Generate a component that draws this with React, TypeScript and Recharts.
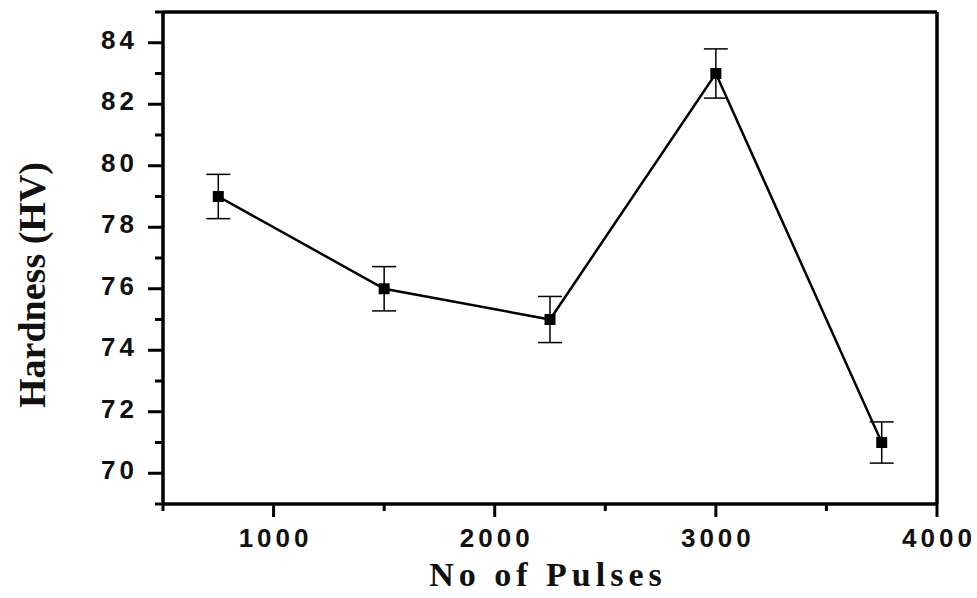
import {
  LineChart,
  Line,
  XAxis,
  YAxis,
  ErrorBar,
  ReferenceLine,
  Label,
} from "recharts";

// pulse count vs. Vickers hardness, with standard deviation
const pulses = [750, 1500, 2250, 3000, 3750];
const hardness = [79, 76, 75, 83, 71];
const hardnessErr = [0.72, 0.72, 0.75, 0.8, 0.67];

const xTicks = [500, 1000, 1500, 2000, 2500, 3000, 3500, 4000];
const yTicks = [69, 70, 71, 72, 73, 74, 75, 76, 77, 78, 79, 80, 81, 82, 83, 84, 85];

const chartData = pulses.map((p, i) => ({
  pulses: p,
  hardness: hardness[i],
  err: hardnessErr[i],
}));

const tickFont = {
  fontFamily: "'Liberation Sans', Arial, sans-serif",
  fontWeight: 700,
  fontSize: 26,
  letterSpacing: 4,
  fill: "#111",
};

const titleFont = {
  fontFamily: "'Liberation Serif', 'Times New Roman', serif",
  fontWeight: 700,
  fill: "#111",
};

const XTick = ({ x, y, payload }: any) => {
  const major = payload.value % 1000 === 0;
  return (
    <g>
      <line x1={x} x2={x} y1={y} y2={y + (major ? 13 : 7)} stroke="#000" strokeWidth={3} />
      {major && (
        <text x={x + 2} y={y + 34} textAnchor="middle" dominantBaseline="central" {...tickFont}>
          {payload.value}
        </text>
      )}
    </g>
  );
};

const YTick = ({ x, y, payload }: any) => {
  const major = payload.value % 2 === 0;
  return (
    <g>
      <line x1={x} x2={x - (major ? 15 : 8)} y1={y} y2={y} stroke="#000" strokeWidth={3} />
      {major && (
        <text x={x - 25} y={y - 3} textAnchor="end" dominantBaseline="central" {...tickFont}>
          {payload.value}
        </text>
      )}
    </g>
  );
};

const Square = ({ cx, cy, index }: any) => (
  <rect key={index} x={cx - 5.5} y={cy - 5.5} width={11} height={11} fill="#000" />
);

export default function App() {
  return (
    <div style={{ position: "absolute", left: 0, top: 0, width: 977, height: 598, background: "#fff" }}>
      <LineChart
        width={977}
        height={598}
        data={chartData}
        margin={{ top: 12, right: 40, bottom: 0, left: 0 }}
      >
        <XAxis
          dataKey="pulses"
          type="number"
          domain={[500, 4000]}
          ticks={xTicks}
          interval={0}
          height={94}
          tickSize={0}
          tickMargin={0}
          tickLine={false}
          tick={<XTick />}
          axisLine={{ stroke: "#000", strokeWidth: 3.5 }}
        >
          <Label
            content={() => (
              <text x={548} y={586} textAnchor="middle" fontSize={34} letterSpacing={5} {...titleFont}>
                No of Pulses
              </text>
            )}
          />
        </XAxis>
        <YAxis
          type="number"
          domain={[69, 85]}
          ticks={yTicks}
          interval={0}
          width={163}
          tickSize={0}
          tickMargin={0}
          tickLine={false}
          tick={<YTick />}
          axisLine={{ stroke: "#000", strokeWidth: 3.5 }}
        >
          <Label
            content={() => (
              <text
                x={45}
                y={285}
                transform="rotate(-90 45 285)"
                textAnchor="middle"
                fontSize={38}
                {...titleFont}
              >
                Hardness (HV)
              </text>
            )}
          />
        </YAxis>
        <ReferenceLine y={85} stroke="#000" strokeWidth={3.5} />
        <ReferenceLine x={4000} stroke="#000" strokeWidth={3.5} />
        <Line
          dataKey="hardness"
          stroke="#000"
          strokeWidth={2.5}
          dot={<Square />}
          activeDot={false}
          isAnimationActive={false}
        >
          <ErrorBar dataKey="err" direction="y" width={12} stroke="#000" strokeWidth={1.5} />
        </Line>
      </LineChart>
    </div>
  );
}
